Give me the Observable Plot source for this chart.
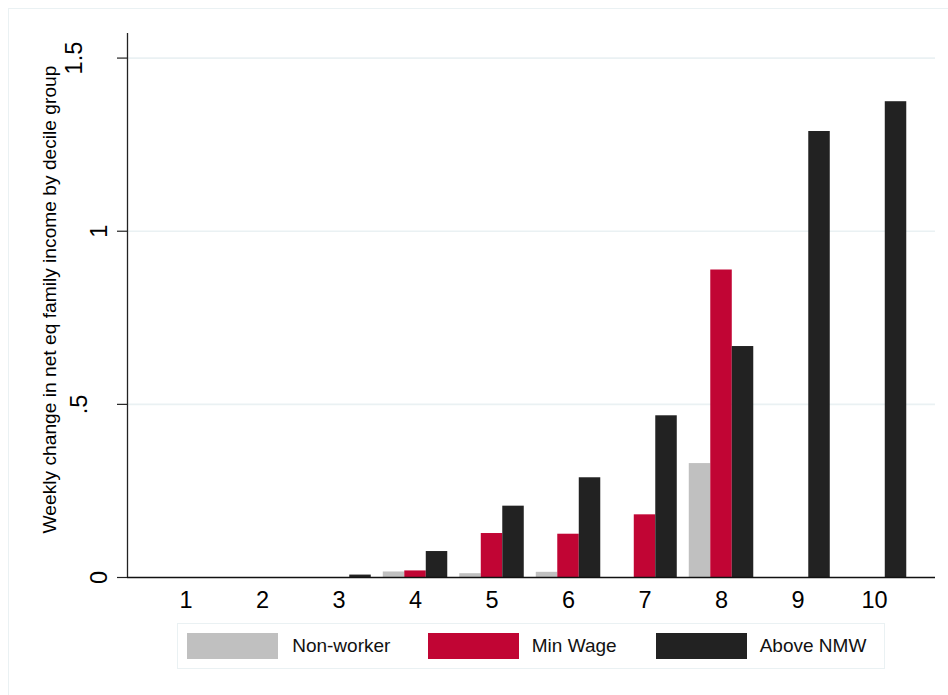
<!DOCTYPE html>
<html>
<head>
<meta charset="utf-8">
<script src="https://cdn.jsdelivr.net/npm/d3@7"></script>
<script src="https://cdn.jsdelivr.net/npm/@observablehq/plot@0.6"></script>
<style>
  html, body { margin: 0; padding: 0; background: #ffffff; overflow: hidden; }
  body { width: 948px; height: 695px; position: relative; font-family: "Liberation Sans", Arial, sans-serif; }
  #outer { position: absolute; left: 8px; top: 8px; width: 1200px; height: 900px;
           border-left: 1.5px solid #eaf1f3; border-top: 1.5px solid #eaf1f3; z-index: 0; }
  #chart { position: relative; z-index: 1; }
  #chart svg { display: block; }
  #legend { position: relative; z-index: 1; margin-left: 177px; margin-top: 5px; width: 708px; height: 46px;
            box-sizing: border-box; border: 1.5px solid #eaf1f3; background: #ffffff; }
  .sw { position: absolute; top: 8.5px; width: 91px; height: 26px; }
  .lt { position: absolute; top: 8.5px; height: 26px; line-height: 26px; font-size: 19px; color: #111; white-space: nowrap; }
</style>
</head>
<body>
<div id="outer"></div>
<div id="chart"></div>
<div id="legend"></div>
<script>
// ---- data ----
const deciles = [1, 2, 3, 4, 5, 6, 7, 8, 9, 10];
const decileLabels = ["1", "2", "3", "4", "5", "6", "7", "8", "9", "10"];
const seriesNames = ["Non-worker", "Min Wage", "Above NMW"];
const seriesColors = ["#c0c0c0", "#c10534", "#222222"];
const nonWorker = [0, 0, 0, 0.016, 0.011, 0.015, 0, 0.329, 0, 0];
const minWage   = [0, 0, 0, 0.019, 0.127, 0.125, 0.181, 0.888, 0, 0];
const aboveNMW  = [0, 0, 0.007, 0.075, 0.206, 0.288, 0.467, 0.667, 1.288, 1.374];
const yTicks = [0, 0.5, 1, 1.5];
const yTickLabels = ["0", ".5", "1", "1.5"];
const yTitle = "Weekly change in net eq family income by decile group";

// ---- build table ----
const seriesValues = [nonWorker, minWage, aboveNMW];
const rows = [];
seriesNames.forEach((s, k) => {
  deciles.forEach((d, i) => rows.push({decile: d, k, series: s, value: seriesValues[k][i]}));
});

const xDomain = [0.235, 10.797];
const barW = 0.281;       // width of one bar in decile units
const groupHalf = 0.4216; // half width of a group of three bars
const yDomain = [0, 1.571];
const font = "'Liberation Sans', Arial, sans-serif";

const lbl = yTicks.map((v, i) => ({v, t: yTickLabels[i]}));
const labelGroups = [
  {sel: lbl.filter(d => d.t.length === 1), dx: -20.3},
  {sel: lbl.filter(d => d.t === ".5"), dx: -40.3},
  {sel: lbl.filter(d => d.t === "1.5"), dx: -45.3}
];

const plot = Plot.plot({
  width: 948,
  height: 618,
  marginLeft: 127,
  marginRight: 13,
  marginTop: 33,
  marginBottom: 41,
  style: {fontFamily: font, background: "transparent", color: "#000"},
  x: {type: "linear", domain: xDomain, axis: null},
  y: {domain: yDomain, axis: null},
  color: {domain: seriesNames, range: seriesColors},
  marks: [
    Plot.ruleY(yTicks.filter(v => v > 0), {stroke: "#eaf1f3", strokeWidth: 1.6}),
    Plot.rectY(rows, {
      x1: r => r.decile - groupHalf + r.k * barW,
      x2: r => r.decile - groupHalf + (r.k + 1) * barW,
      y: "value",
      fill: "series"
    }),
    Plot.ruleY(yTicks, {x1: xDomain[0], x2: xDomain[0], insetLeft: -10, stroke: "#222", strokeWidth: 1.2}),
    Plot.ruleX([xDomain[0]], {stroke: "#222", strokeWidth: 1.3}),
    Plot.ruleY([0], {stroke: "#111", strokeWidth: 1.5}),
    ...labelGroups.map(g => Plot.text(g.sel, {
      y: "v", text: "t", frameAnchor: "left", dx: g.dx, rotate: -90,
      lineAnchor: "bottom", textAnchor: "middle", fontSize: 23.5, fill: "#000"
    })),
    Plot.text(deciles, {
      x: d => d, text: (d, i) => decileLabels[i], frameAnchor: "bottom", dy: 14.3,
      lineAnchor: "top", fontSize: 23.5, fill: "#000"
    }),
    Plot.text([yTitle], {
      text: d => d, frameAnchor: "left", dx: -71.7, dy: -6, rotate: -90,
      lineAnchor: "bottom", textAnchor: "middle", fontSize: 19.2, fill: "#000"
    })
  ]
});
document.getElementById("chart").appendChild(plot);

// ---- legend (HTML, below the SVG) ----
const legend = document.getElementById("legend");
const swLeft = [8.5, 249.8, 477.5];
const txLeft = [114.2, 353.8, 581.7];
seriesNames.forEach((s, k) => {
  const sw = document.createElement("div");
  sw.className = "sw";
  sw.style.left = swLeft[k] + "px";
  sw.style.background = seriesColors[k];
  legend.appendChild(sw);
  const tx = document.createElement("div");
  tx.className = "lt";
  tx.style.left = txLeft[k] + "px";
  tx.textContent = s;
  legend.appendChild(tx);
});
</script>
</body>
</html>
